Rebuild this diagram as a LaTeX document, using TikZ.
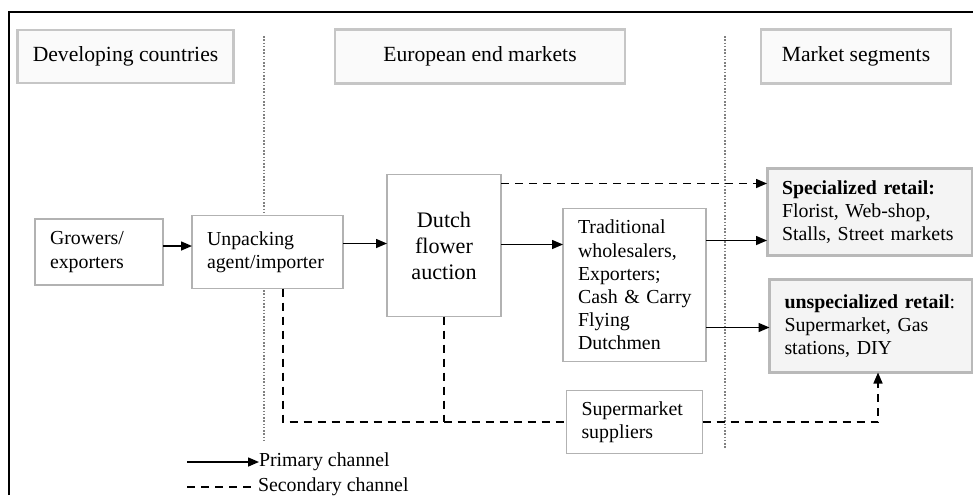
\documentclass[tikz,border=0pt]{standalone}
\usepackage{fontspec}
\setmainfont{Liberation Serif}
\usetikzlibrary{positioning,arrows.meta}

\begin{document}
\begin{tikzpicture}
[every node/.style={font=\fontsize{11.3}{13.2}\selectfont,inner sep=0mm,inner xsep=3mm,outer sep=0mm},
 boxed/.style={rectangle,draw=gray!60,fill=white,line width=0.35mm,align=left},
 hdr/.style={rectangle,draw=gray!45,fill=gray!4,line width=0.55mm,align=center,font=\fontsize{12.3}{14}\selectfont},
 seg/.style={rectangle,draw=gray!55,fill=gray!9,line width=0.6mm,align=left},
 sepline/.style={gray,densely dotted,line width=0.3mm},
 primary/.style={-{Triangle[length=2.2mm,width=1.8mm]},line width=0.3mm},
 secline/.style={line width=0.3mm,dash pattern=on 1.6mm off 1.2mm},
 secondary/.style={primary,secline}]
\useasboundingbox (0,0) rectangle (194.6mm,-99mm);

% frame and column separators
\draw[line width=0.3mm] (1.8mm,-99mm) -- (1.8mm,-2.4mm) -- (194.6mm,-2.4mm);
\draw[sepline] (52.8mm,-7.2mm) -- (52.8mm,-88mm);
\draw[sepline] (145mm,-7.2mm)  -- (145mm,-89.6mm);

\node[boxed,text width=19.6mm,minimum height=13.2mm] (grow) at (19.8mm,-50.4mm) {Growers/\\exporters};
\node[boxed,text width=24.2mm,minimum height=14.6mm] (unpack) [on grid,right=33.7mm of grow] {Unpacking\\agent/importer};
\node[boxed,align=center,text width=16.8mm,minimum height=28.4mm,font=\fontsize{12.6}{14.8}\selectfont] (auction) [on grid,above right=1.3mm and 35.3mm of unpack] {Dutch\\flower\\auction};
\node[boxed,text width=22.6mm,minimum height=30.6mm] (trad) [on grid,below right=7.9mm and 38.1mm of auction] {Traditional\\wholesalers,\\Exporters;\\\mbox{Cash \& Carry}\\Flying\\Dutchmen};
\node[seg,text width=35mm,minimum height=17.4mm] (spec) [on grid,above right=14.6mm and 47mm of trad] {\mbox{\textbf{Specialized retail:}}\\Florist, Web-shop,\\\mbox{Stalls, Street markets}};
\node[seg,text width=34.6mm,minimum height=18.6mm] (unspec) [on grid,below right=8.2mm and 47.3mm of trad] {\mbox{\textbf{unspecialized retail}:}\\Supermarket, Gas\\stations, DIY};
\node[boxed,text width=21.2mm,minimum height=12.6mm] (supp) [on grid,below=27.4mm of trad] {Supermarket\\suppliers};

% column headers
\node[hdr,minimum width=41.4mm,minimum height=10.6mm] (hdev) [on grid,above right=39.1mm and 5.3mm of grow] {Developing countries};
\node[hdr,minimum width=58mm,minimum height=10.8mm] (heur) [on grid,right=70.9mm of hdev] {European end markets};
\node[hdr,minimum width=38mm,minimum height=10.8mm] (hseg) [on grid,right=75.2mm of heur] {Market segments};

% primary channel
\draw[primary] ([yshift=1.2mm]grow.east) -- ([yshift=1.2mm]grow.east -| unpack.west);
\draw[primary] ([yshift=1.7mm]unpack.east) -- ([yshift=1.7mm]unpack.east -| auction.west);
\draw[primary] ([yshift=0.2mm]auction.east) -- ([yshift=0.2mm]auction.east -| trad.west);
\draw[primary] ([yshift=8.9mm]trad.east) -- ([yshift=8.9mm]trad.east -| spec.west);
\draw[primary] ([yshift=-8.5mm]trad.east) -- ([yshift=-8.5mm]trad.east -| unspec.west);

% secondary channel
\draw[secondary] ([yshift=12.4mm]auction.east) -- ([yshift=12.4mm]auction.east -| spec.west);
\draw[secline] ([xshift=3.1mm]unpack.south) |- (supp.west);
\draw[secline] (auction.south) -- (auction.south |- supp.west);
\draw[secondary] (supp.east) -| ([xshift=1.4mm]unspec.south);

% legend
\node[inner xsep=0mm,anchor=west] (lprim) at (51.8mm,-92.4mm) {Primary channel};
\node[inner xsep=0mm,anchor=west] (lsec) at (51.6mm,-97.4mm) {Secondary channel};
\coordinate (lprim0) at ([xshift=-14.4mm]lprim.west);
\coordinate (lsec0) at ([xshift=-14.2mm]lsec.west);
\draw[primary] (lprim0) -- (lprim.west);
\draw[secline] (lsec0) -- ([xshift=-0.4mm]lsec.west);
\end{tikzpicture}
\end{document}
